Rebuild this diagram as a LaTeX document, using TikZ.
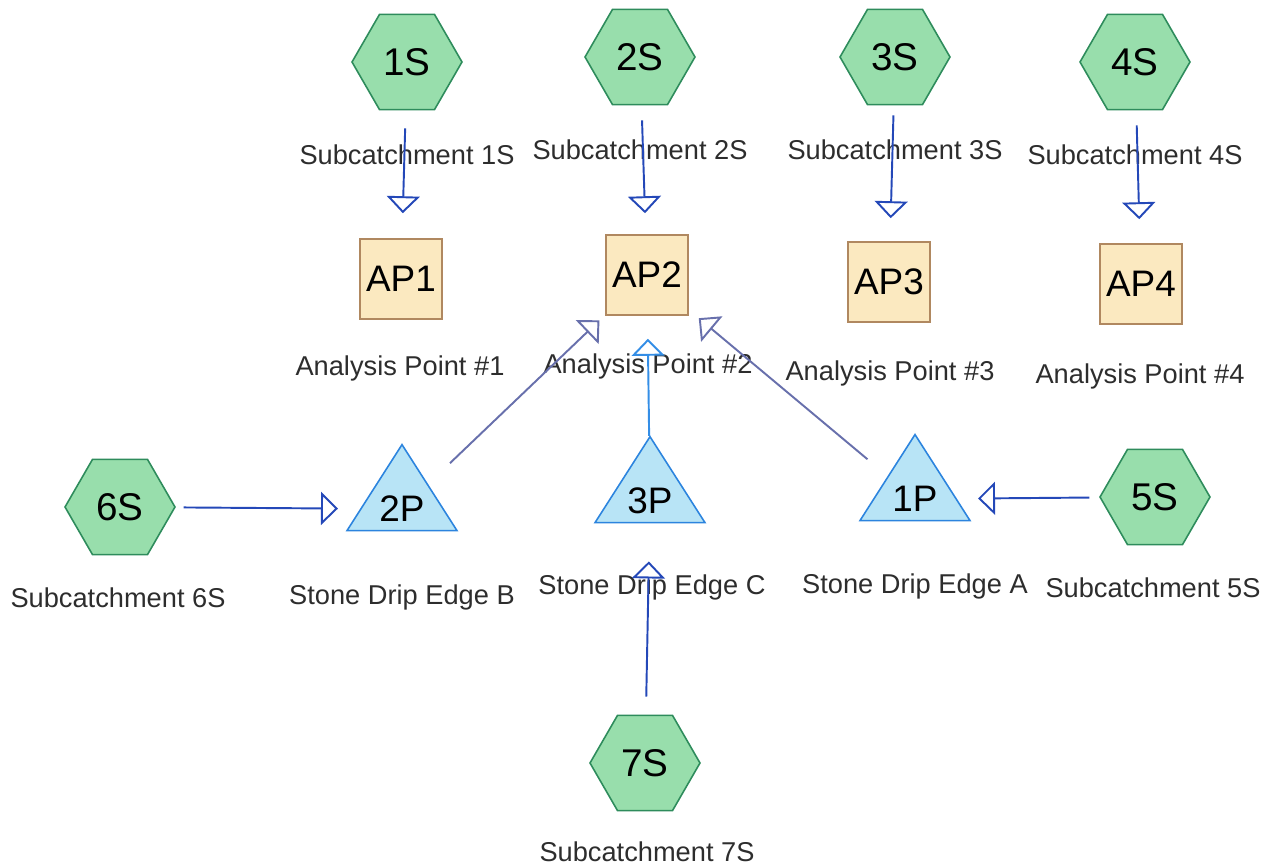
\documentclass[tikz,border=0pt]{standalone}
\usepackage{fontspec}
\setmainfont{Liberation Sans}
\usetikzlibrary{shapes.geometric, arrows.meta}
\definecolor{hexfill}{RGB}{152,222,172}
\definecolor{hexline}{RGB}{46,140,92}
\definecolor{apfill}{RGB}{251,233,192}
\definecolor{apline}{RGB}{176,136,96}
\definecolor{pondfill}{RGB}{184,228,246}
\definecolor{pondline}{RGB}{44,132,222}
\definecolor{flowblue}{RGB}{36,72,184}
\definecolor{flowgray}{RGB}{104,112,172}
\definecolor{flowlight}{RGB}{52,142,230}
\definecolor{labeltext}{RGB}{45,45,45}

\begin{document}
\begin{tikzpicture}[x=0.02cm, y=-0.02cm,
    subcat/.style={regular polygon, regular polygon sides=6, minimum size=2.2cm, inner sep=0pt, draw=hexline, fill=hexfill, line width=0.9pt, font=\fontsize{22}{25}\selectfont},
    apoint/.style={draw=apline, fill=apfill, minimum width=1.64cm, minimum height=1.6cm, inner sep=0pt, line width=0.9pt, font=\fontsize{21}{24}\selectfont},
    pond/.style={isosceles triangle, shape border rotate=90, isosceles triangle stretches, minimum width=2.2cm, minimum height=1.72cm, inner sep=0pt, draw=pondline, fill=pondfill, line width=0.9pt, font=\fontsize{21}{24}\selectfont},
    caption/.style={font=\fontsize{15.5}{18}\selectfont, text=labeltext},
    flow/.style={-{Triangle[fill=white, width=0.66cm, length=0.34cm]}, flowblue, line width=1.1pt},
    flowdiag/.style={flow, flowgray},
    flowup/.style={flow, flowlight}
]
\useasboundingbox (0,0) rectangle (1276,868);

% Top row: subcatchments
\node[subcat] (s1) at (407,62) {1S};
\node[subcat] (s2) at (640,57) {2S};
\node[subcat] (s3) at (895,57) {3S};
\node[subcat] (s4) at (1135,62) {4S};
\node[caption] (ls1) at (407,155) {Subcatchment 1S};
\node[caption] (ls2) at (640,150) {Subcatchment 2S};
\node[caption] (ls3) at (895,150) {Subcatchment 3S};
\node[caption] (ls4) at (1135,155) {Subcatchment 4S};

% Analysis points
\node[apoint] (ap1) at (401,279) {AP1};
\node[apoint] (ap2) at (647,275) {AP2};
\node[apoint] (ap3) at (889,282) {AP3};
\node[apoint] (ap4) at (1141,284) {AP4};
\node[caption] (lap1) at (400,368) {Analysis Point \#1};
\node[caption] (lap2) at (648,366) {Analysis Point \#2};
\node[caption] (lap3) at (890,373) {Analysis Point \#3};
\node[caption] (lap4) at (1140,376) {Analysis Point \#4};

\draw[flow, shorten <=0.36cm, shorten >=0.5cm] (s1) -- (ap1);
\draw[flow, shorten <=0.3cm, shorten >=0.42cm] (s2) -- (ap2);
\draw[flow, shorten <=0.2cm, shorten >=0.46cm] (s3) -- (ap3);
\draw[flow, shorten <=0.3cm, shorten >=0.48cm] (s4) -- (ap4);

% Ponds (stone drip edges)
\node[pond] (p2) at (402,509) {2P};
\node[pond] (p3) at (650,501) {3P};
\node[pond] (p1) at (915,499) {1P};
\node[caption] (lp2) at (402,597) {Stone Drip Edge B};
\node[caption] (lp3) at (652,587) {Stone Drip Edge C};
\node[caption] (lp1) at (915,586) {Stone Drip Edge A};

\draw[flowdiag, shorten <=0.6cm, shorten >=0.16cm] (p2) -- (ap2);
\draw[flowup, shorten >=0.46cm] (p3) -- (ap2);
\draw[flowdiag, shorten <=0.52cm, shorten >=0.26cm] (p1) -- (ap2);

% Side and bottom subcatchments
\node[subcat] (s6) at (120,507) {6S};
\node[subcat] (s5) at (1155,497) {5S};
\node[subcat] (s7) at (645,763) {7S};
\node[caption] (ls6) at (118,598) {Subcatchment 6S};
\node[caption] (ls5) at (1153,588) {Subcatchment 5S};
\node[caption] (ls7) at (647,852) {Subcatchment 7S};

\draw[flow, shorten <=0.16cm, shorten >=0.44cm] (s6) -- (p2);
\draw[flow, shorten <=0.2cm, shorten >=0.42cm] (s5) -- (p1);
\draw[flow, shorten <=0.36cm, shorten >=0.76cm] (s7) -- (p3);

\end{tikzpicture}
\end{document}
